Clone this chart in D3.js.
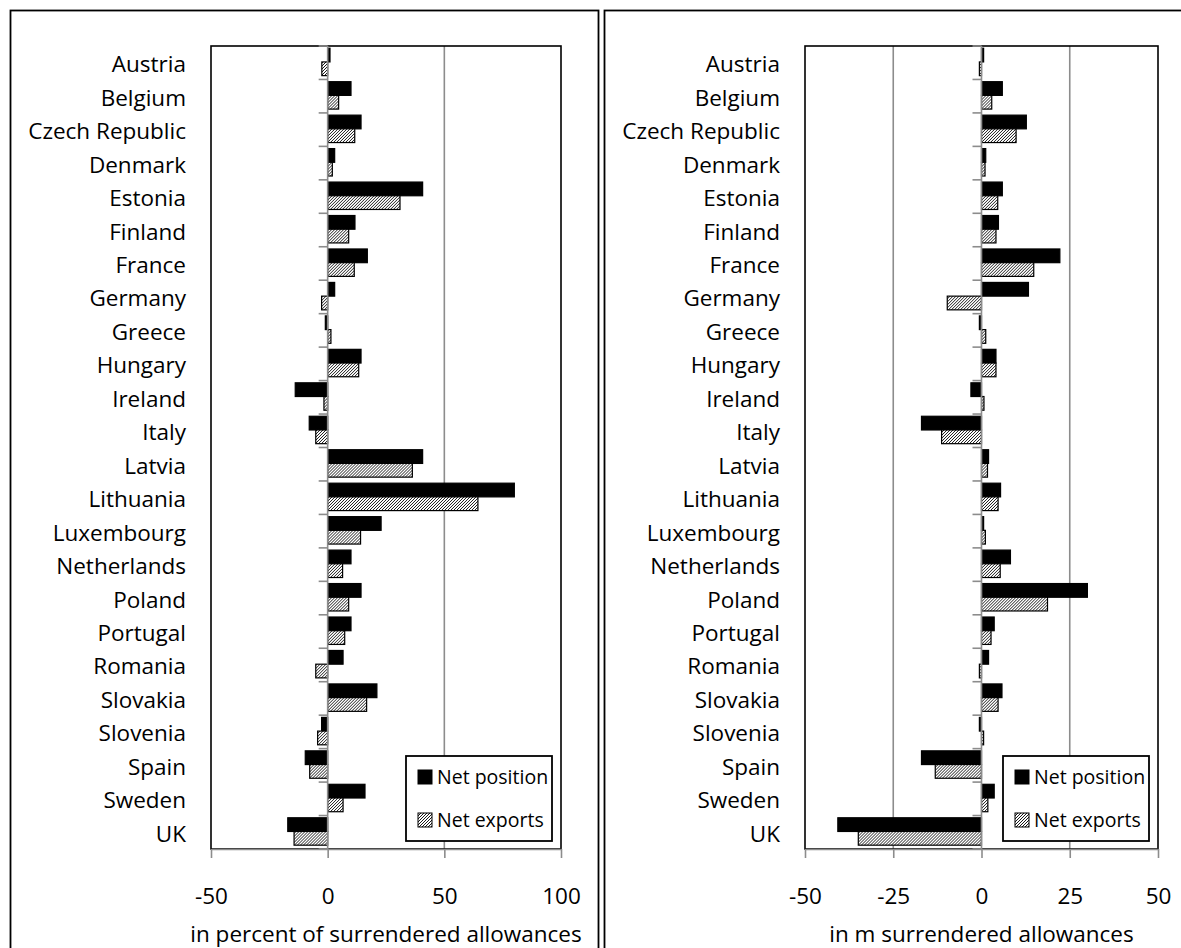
<!DOCTYPE html>
<html>
<head>
<meta charset="utf-8">
<script src="https://cdn.jsdelivr.net/npm/d3@7"></script>
<style>
  body { margin: 0; background: #fff; }
  text { font-family: "Open Sans", sans-serif; fill: #000; }
</style>
</head>
<body>
<svg id="chart" width="1181" height="948"></svg>
<script>
const countries = ["Austria", "Belgium", "Czech Republic", "Denmark", "Estonia", "Finland",
  "France", "Germany", "Greece", "Hungary", "Ireland", "Italy", "Latvia", "Lithuania",
  "Luxembourg", "Netherlands", "Poland", "Portugal", "Romania", "Slovakia", "Slovenia",
  "Spain", "Sweden", "UK"];

// left panel: in percent of surrendered allowances
const pctPosition = [1, 10, 14.3, 3, 40.7, 11.7, 17, 3, -1, 14.3, -13.9, -7.9, 40.7, 80,
  22.9, 10, 14.3, 10, 6.6, 21.1, -2.6, -9.6, 16, -17.1];
const pctExports = [-2.5, 4.7, 11.6, 2, 31, 9, 11.4, -2.6, 1.4, 13.3, -1.6, -5.1, 36.3, 64.4,
  14.1, 6.4, 9, 7.3, -5.1, 16.7, -4.3, -7.7, 6.6, -14.4];

// right panel: in m surrendered allowances
const mPosition = [0.6, 5.9, 12.7, 1.2, 5.9, 4.8, 22.2, 13.3, -0.6, 4.1, -3, -17, 2, 5.4,
  0.6, 8.2, 30, 3.6, 2, 5.8, -0.6, -17, 3.6, -40.7];
const mExports = [-0.6, 2.9, 9.8, 1, 4.6, 4.1, 14.8, -9.7, 1.2, 4.1, 0.7, -11.3, 1.7, 4.7,
  1.1, 5.3, 18.7, 2.7, -0.6, 4.7, 0.6, -13.1, 1.8, -34.9];

const seriesNames = ["Net position", "Net exports"];
const pctTicks = [-50, 0, 50, 100];
const pctGrid = [50];
const mTicks = [-50, -25, 0, 25, 50];
const mGrid = [-25, 25];

const svg = d3.select("#chart");
const plotTop = 46, plotBottom = 849;
const fontSize = 22.5;
const axisGray = "#8c8c8c";

// hatched fill for net exports
const defs = svg.append("defs");
const pat = defs.append("pattern")
  .attr("id", "hatch")
  .attr("patternUnits", "userSpaceOnUse")
  .attr("width", 3).attr("height", 3);
pat.append("rect").attr("width", 3).attr("height", 3).attr("fill", "#fff");
pat.append("path")
  .attr("d", "M-1,1 l2,-2 M0,3 l3,-3 M2,4 l2,-2")
  .attr("stroke", "#000").attr("stroke-width", 0.9);

// outer frames
svg.append("rect").attr("x", 10.5).attr("y", 10.5).attr("width", 588).attr("height", 1000)
  .attr("fill", "none").attr("stroke", "#000").attr("stroke-width", 1.8);
svg.append("rect").attr("x", 604.5).attr("y", 10.5).attr("width", 700).attr("height", 1000)
  .attr("fill", "none").attr("stroke", "#000").attr("stroke-width", 1.8);

function drawPanel(cfg) {
  const g = svg.append("g");
  const x = d3.scaleLinear().domain(cfg.domain).range([cfg.left, cfg.right]);
  const y = d3.scaleBand().domain(countries).range([plotTop, plotBottom]);
  const sub = d3.scaleBand().domain(seriesNames).range([0, y.bandwidth()]).paddingOuter(0.22);

  // gridlines
  g.selectAll(".grid").data(cfg.grid).join("line")
    .attr("x1", d => x(d)).attr("x2", d => x(d))
    .attr("y1", plotTop).attr("y2", plotBottom)
    .attr("stroke", axisGray).attr("stroke-width", 1.6);

  // plot area border
  g.append("rect")
    .attr("x", cfg.left).attr("y", plotTop)
    .attr("width", cfg.right - cfg.left).attr("height", plotBottom - plotTop)
    .attr("fill", "none").attr("stroke", "#000").attr("stroke-width", 1.6);

  // x axis
  const ax = g.append("g")
    .attr("transform", `translate(0,${plotBottom})`)
    .call(d3.axisBottom(x).tickValues(cfg.ticks).tickSize(9).tickSizeOuter(0).tickFormat(d => String(d)));
  ax.select(".domain").attr("stroke", axisGray).attr("stroke-width", 1.6);
  ax.selectAll(".tick line").attr("stroke", axisGray).attr("stroke-width", 1.6);
  ax.selectAll(".tick text")
    .attr("dy", null).attr("y", 55)
    .style("font-family", "'Open Sans', sans-serif")
    .style("font-size", fontSize + "px").attr("fill", "#000");

  g.append("text")
    .attr("x", (cfg.left + cfg.right) / 2).attr("y", 942)
    .attr("text-anchor", "middle")
    .style("font-size", fontSize + "px")
    .text(cfg.title);

  // bars
  const rows = countries.map((c, i) => ({ c, vals: [cfg.pos[i], cfg.exp[i]] }));
  const grp = g.selectAll(".row").data(rows).join("g")
    .attr("transform", d => `translate(0,${y(d.c)})`);
  grp.selectAll("rect")
    .data(d => d.vals.map((v, k) => ({ v, s: seriesNames[k] })))
    .join("rect")
    .attr("x", d => Math.min(x(0), x(d.v)))
    .attr("width", d => Math.abs(x(d.v) - x(0)))
    .attr("y", d => sub(d.s) - 0.8)
    .attr("height", sub.bandwidth())
    .attr("fill", d => d.s === "Net position" ? "#000" : "url(#hatch)")
    .attr("stroke", "#000").attr("stroke-width", 1.2);

  // category axis at zero
  g.append("line")
    .attr("x1", x(0)).attr("x2", x(0)).attr("y1", plotTop).attr("y2", plotBottom)
    .attr("stroke", axisGray).attr("stroke-width", 1.6);
  const edges = countries.map(c => y(c)).concat([plotBottom]);
  g.selectAll(".ytick").data(edges).join("line")
    .attr("x1", x(0) - 9).attr("x2", x(0))
    .attr("y1", d => d).attr("y2", d => d)
    .attr("stroke", axisGray).attr("stroke-width", 1.6);

  g.selectAll(".lab").data(countries).join("text")
    .attr("x", cfg.labelX)
    .attr("y", d => y(d) + y.bandwidth() / 2 + 9.5)
    .attr("text-anchor", "end")
    .style("font-size", fontSize + "px")
    .text(d => d);

  // legend
  const lg = g.append("g").attr("transform", `translate(${cfg.right - 155},756)`);
  lg.append("rect").attr("width", 146).attr("height", 85)
    .attr("fill", "#fff").attr("stroke", "#000").attr("stroke-width", 1.8);
  seriesNames.forEach((s, k) => {
    lg.append("rect")
      .attr("x", 12).attr("y", 14 + k * 43).attr("width", 14).attr("height", 14)
      .attr("fill", k === 0 ? "#000" : "url(#hatch)")
      .attr("stroke", "#000").attr("stroke-width", 1);
    lg.append("text")
      .attr("x", 31).attr("y", 28 + k * 43)
      .style("font-size", "19.5px")
      .text(s);
  });
}

drawPanel({
  domain: [-50, 100], left: 211, right: 561, labelX: 186,
  ticks: pctTicks, grid: pctGrid, pos: pctPosition, exp: pctExports,
  title: "in percent of surrendered allowances"
});
drawPanel({
  domain: [-50, 50], left: 805, right: 1158, labelX: 780,
  ticks: mTicks, grid: mGrid, pos: mPosition, exp: mExports,
  title: "in m surrendered allowances"
});
</script>
</body>
</html>
